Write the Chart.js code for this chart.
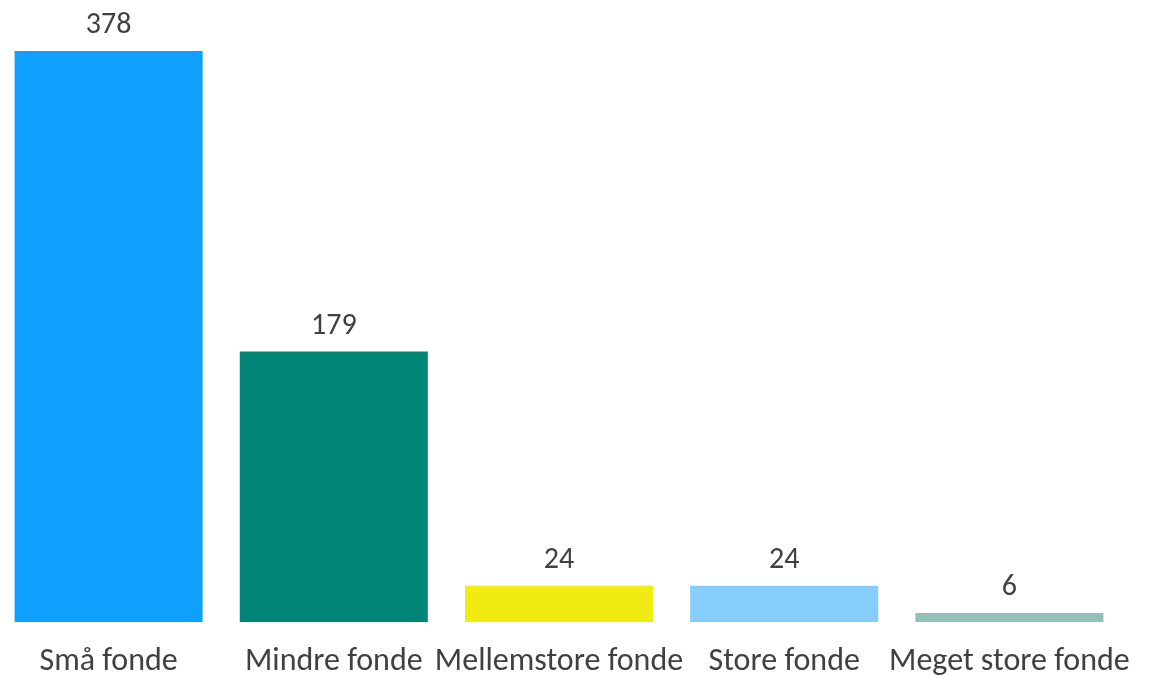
<!DOCTYPE html>
<html>
<head>
<meta charset="utf-8">
<script src="https://cdn.jsdelivr.net/npm/chart.js@4.4.0/dist/chart.umd.min.js"></script>
<style>
    html, body { margin: 0; padding: 0; background: #ffffff; overflow: hidden; }
    #wrap { position: relative; left: -4px; width: 1160px; height: 677px; }
</style>
</head>
<body>
<div id="wrap"><canvas id="fondeChart"></canvas></div>
<script>
// Data for antal fonde per størrelse
const kategorier = ['Små fonde', 'Mindre fonde', 'Mellemstore fonde', 'Store fonde', 'Meget store fonde'];
const antal = [378, 179, 24, 24, 6];
const farver = ['#0FA0FF', '#008577', '#F0EB10', '#87CDFC', '#90C2B9'];

const textFarve = '#404040';
const fontFamilie = "Carlito, 'Open Sans', 'Noto Sans', sans-serif";

// Plugin: tal over hver søjle
const vaerdiLabels = {
    id: 'vaerdiLabels',
    afterDatasetsDraw(chart) {
        const ctx = chart.ctx;
        const meta = chart.getDatasetMeta(0);
        ctx.save();
        ctx.fillStyle = textFarve;
        ctx.font = '30px ' + fontFamilie;
        ctx.textAlign = 'center';
        ctx.textBaseline = 'alphabetic';
        meta.data.forEach((bar, i) => {
            ctx.fillText(String(antal[i]), bar.x, bar.y - 18);
        });
        ctx.restore();
    }
};

const ctx = document.getElementById('fondeChart').getContext('2d');
new Chart(ctx, {
    type: 'bar',
    data: {
        labels: kategorier,
        datasets: [{
            data: antal,
            backgroundColor: farver,
            borderWidth: 0,
            barPercentage: 0.835,
            categoryPercentage: 1
        }]
    },
    options: {
        responsive: true,
        maintainAspectRatio: false,
        animation: false,
        layout: {
            padding: { top: 51, right: 34, bottom: 0, left: 0 }
        },
        plugins: {
            legend: { display: false },
            tooltip: { enabled: false }
        },
        scales: {
            x: {
                grid: { display: false, drawTicks: false },
                border: { display: false },
                afterFit: function(scale) {
                    // fast højde på kategoriaksen
                    scale.height = 55;
                },
                ticks: {
                    color: textFarve,
                    font: { size: 32, family: fontFamilie },
                    padding: 21,
                    maxRotation: 0,
                    autoSkip: false
                }
            },
            y: {
                display: false,
                min: 0,
                max: 378
            }
        }
    },
    plugins: [vaerdiLabels]
});
</script>
</body>
</html>
